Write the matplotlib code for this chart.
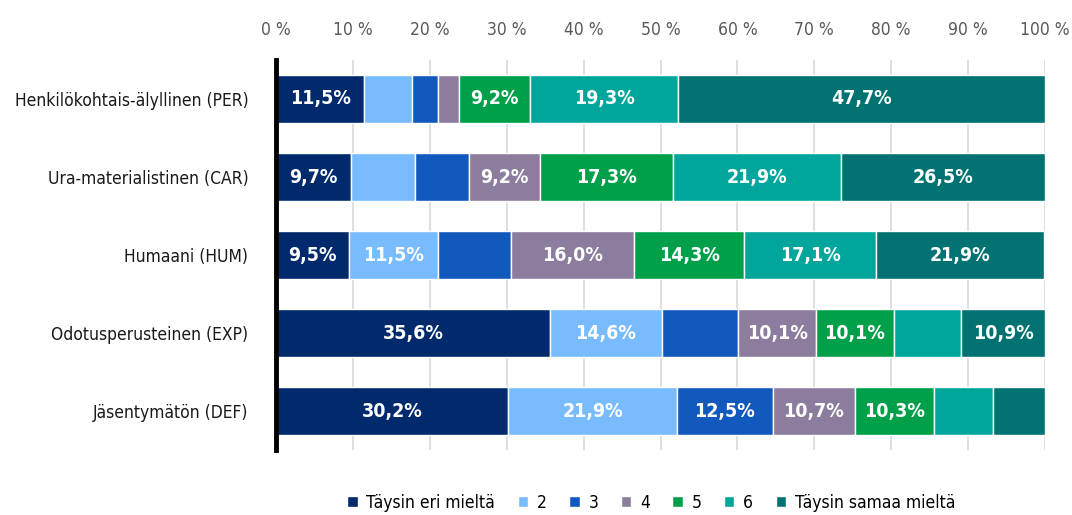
#Stacked horizontal bar chart of agreement levels per category
import numpy as np
import matplotlib.pyplot as plt

# Data
categories = ['Henkilökohtais-älyllinen (PER)', 'Ura-materialistinen (CAR)', 'Humaani (HUM)',
              'Odotusperusteinen (EXP)', 'Jäsentymätön (DEF)']
levels = ['Täysin eri mieltä', '2', '3', '4', '5', '6', 'Täysin samaa mieltä']
values = np.array([
    [11.5, 6.2, 3.3, 2.8, 9.2, 19.3, 47.7],
    [9.7, 8.4, 7.0, 9.2, 17.3, 21.9, 26.5],
    [9.5, 11.5, 9.6, 16.0, 14.3, 17.1, 21.9],
    [35.6, 14.6, 9.9, 10.1, 10.1, 8.8, 10.9],
    [30.2, 21.9, 12.5, 10.7, 10.3, 7.6, 6.8],
])
# which segments carry a value label in the original
show_label = np.array([
    [1, 0, 0, 0, 1, 1, 1],
    [1, 0, 0, 1, 1, 1, 1],
    [1, 1, 0, 1, 1, 1, 1],
    [1, 1, 0, 1, 1, 0, 1],
    [1, 1, 1, 1, 1, 0, 0],
], dtype=bool)
xticks = np.arange(0, 101, 10)
xtick_labels = [f'{t} %' for t in xticks]

colors = ['#002a6c', '#78bcff', '#1259be', '#8c7d9e', '#00a04b', '#00a69c', '#007271']

plt.rcParams['font.family'] = ['DejaVu Sans']
plt.rcParams['font.stretch'] = 'condensed'

fig = plt.figure(figsize=(10.72, 5.15), dpi=100)
ax = fig.add_axes([0.2575, 0.1262, 0.7173, 0.7573])

y = np.arange(len(categories))
left = np.zeros(len(categories))
for j, lev in enumerate(levels):
    bars = ax.barh(y, values[:, j], left=left, height=0.615, color=colors[j],
                   edgecolor='white', linewidth=1, label=lev, zorder=2)
    for i, b in enumerate(bars):
        if show_label[i, j]:
            ax.text(left[i] + values[i, j] / 2, y[i], f'{values[i, j]:.1f}%'.replace('.', ','),
                    ha='center', va='center', color='white', fontsize=14, fontweight='bold', zorder=3)
    left += values[:, j]

ax.set_xlim(0, 100)
ax.set_ylim(4.5, -0.5)
ax.set_yticks(y)
ax.set_yticklabels(categories, fontsize=12.5, color='#1a1a1a')
ax.set_xticks(xticks)
ax.set_xticklabels(xtick_labels, fontsize=12.5, color='#595959')
ax.xaxis.tick_top()
ax.tick_params(axis='both', length=0)
ax.tick_params(axis='x', pad=15)
ax.tick_params(axis='y', pad=20)
ax.grid(axis='x', color='#d9d9d9', linewidth=1.2, zorder=0)
ax.set_axisbelow(True)
for s in ['top', 'right', 'bottom']:
    ax.spines[s].set_visible(False)
ax.spines['left'].set_linewidth(3.5)
ax.spines['left'].set_color('black')
ax.spines['left'].set_zorder(4)

ax.legend(loc='center', bbox_to_anchor=(0.488, -0.136), ncol=7, frameon=False,
          fontsize=12.5, handlelength=0.6, handleheight=0.6, handletextpad=0.5,
          columnspacing=1.3, borderpad=0)

plt.savefig('out.png', dpi=100)
